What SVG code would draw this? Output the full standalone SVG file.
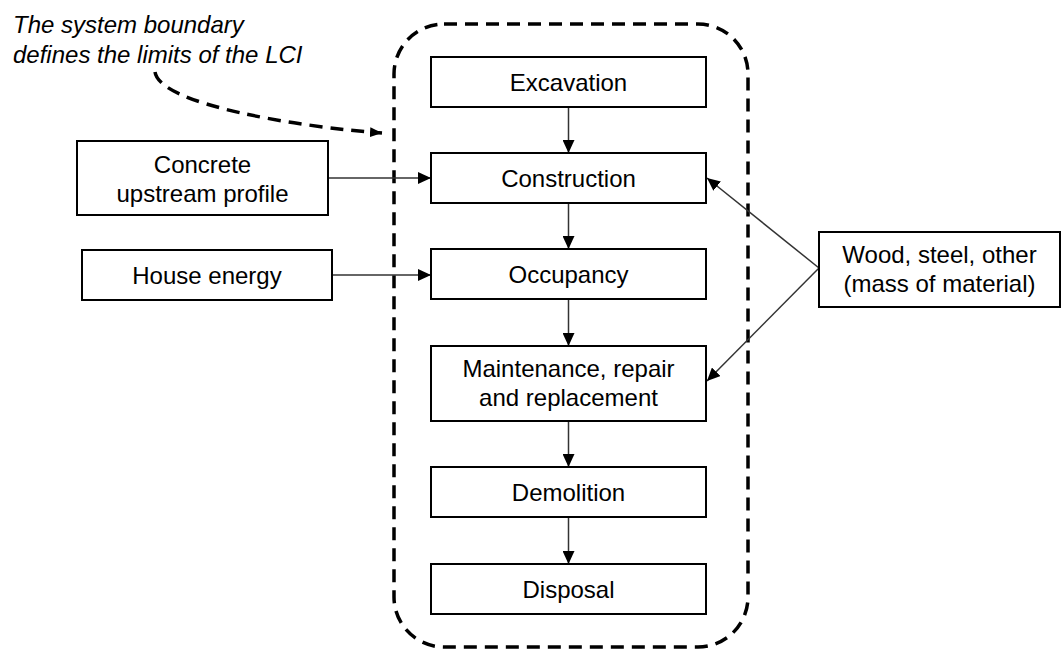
<svg xmlns="http://www.w3.org/2000/svg" width="1061" height="651" viewBox="0 0 1061 651">
<defs>
<marker id="ah" viewBox="0 0 13 12" refX="13" refY="6" markerWidth="13" markerHeight="12" markerUnits="userSpaceOnUse" orient="auto">
<path d="M0,0 L13,6 L0,12 Z" fill="#000"/>
</marker>
<marker id="ahd" viewBox="0 0 12 10" refX="12" refY="5" markerWidth="12" markerHeight="10" markerUnits="userSpaceOnUse" orient="auto">
<path d="M0,0 L12,5 L0,10 Z" fill="#000"/>
</marker>
</defs>
<style>
.box{fill:#fff;stroke:#000;stroke-width:2}
.t{font-family:"Liberation Sans",Arial,sans-serif;font-size:24px;fill:#000;text-anchor:middle}
.it{font-family:"Liberation Sans",Arial,sans-serif;font-size:24px;font-style:italic;fill:#000}
.c{fill:none;stroke:#333;stroke-width:1.5;marker-end:url(#ah)}
.dash{fill:none;stroke:#000;stroke-width:3.5;stroke-dasharray:13 8}
</style>
<rect width="1061" height="651" fill="#fff"/>
<g id="boundary">
<rect class="dash" x="394" y="24" width="354" height="623" rx="50" ry="50"/>
</g>
<g id="note">
<text class="it" x="13" y="33">The system boundary</text>
<text class="it" x="13" y="63">defines the limits of the LCI</text>
</g>
<g id="connectors">
<path class="dash" d="M155,72 C160,105 300,127 382,133" marker-end="url(#ahd)"/>
<line class="c" x1="568.5" y1="107" x2="568.5" y2="153"/>
<line class="c" x1="568.5" y1="203" x2="568.5" y2="249"/>
<line class="c" x1="568.5" y1="299" x2="568.5" y2="346"/>
<line class="c" x1="568.5" y1="421" x2="568.5" y2="467"/>
<line class="c" x1="568.5" y1="517" x2="568.5" y2="564"/>
<line class="c" x1="328" y1="178" x2="431" y2="178"/>
<line class="c" x1="332" y1="275" x2="431" y2="275"/>
<line class="c" x1="819" y1="268" x2="707" y2="178"/>
<line class="c" x1="819" y1="268" x2="707" y2="381"/>
</g>
<g id="excavation">
<rect class="box" x="431" y="57" width="275" height="50"/>
<text class="t" x="568.5" y="90.5">Excavation</text>
</g>
<g id="construction">
<rect class="box" x="431" y="153" width="275" height="50"/>
<text class="t" x="568.5" y="186.5">Construction</text>
</g>
<g id="occupancy">
<rect class="box" x="431" y="249" width="275" height="50"/>
<text class="t" x="568.5" y="282.5">Occupancy</text>
</g>
<g id="maintenance">
<rect class="box" x="431" y="346" width="275" height="75"/>
<text class="t" x="568.5" y="377">Maintenance, repair</text>
<text class="t" x="568.5" y="406">and replacement</text>
</g>
<g id="demolition">
<rect class="box" x="431" y="467" width="275" height="50"/>
<text class="t" x="568.5" y="500.5">Demolition</text>
</g>
<g id="disposal">
<rect class="box" x="431" y="564" width="275" height="50"/>
<text class="t" x="568.5" y="597.5">Disposal</text>
</g>
<g id="concrete">
<rect class="box" x="77" y="141" width="251" height="74"/>
<text class="t" x="202.5" y="173">Concrete</text>
<text class="t" x="202.5" y="202">upstream profile</text>
</g>
<g id="house-energy">
<rect class="box" x="82" y="250" width="250" height="50"/>
<text class="t" x="207" y="283.5">House energy</text>
</g>
<g id="materials">
<rect class="box" x="819" y="232" width="241" height="75"/>
<text class="t" x="939.5" y="263">Wood, steel, other</text>
<text class="t" x="939.5" y="292">(mass of material)</text>
</g>
</svg>
